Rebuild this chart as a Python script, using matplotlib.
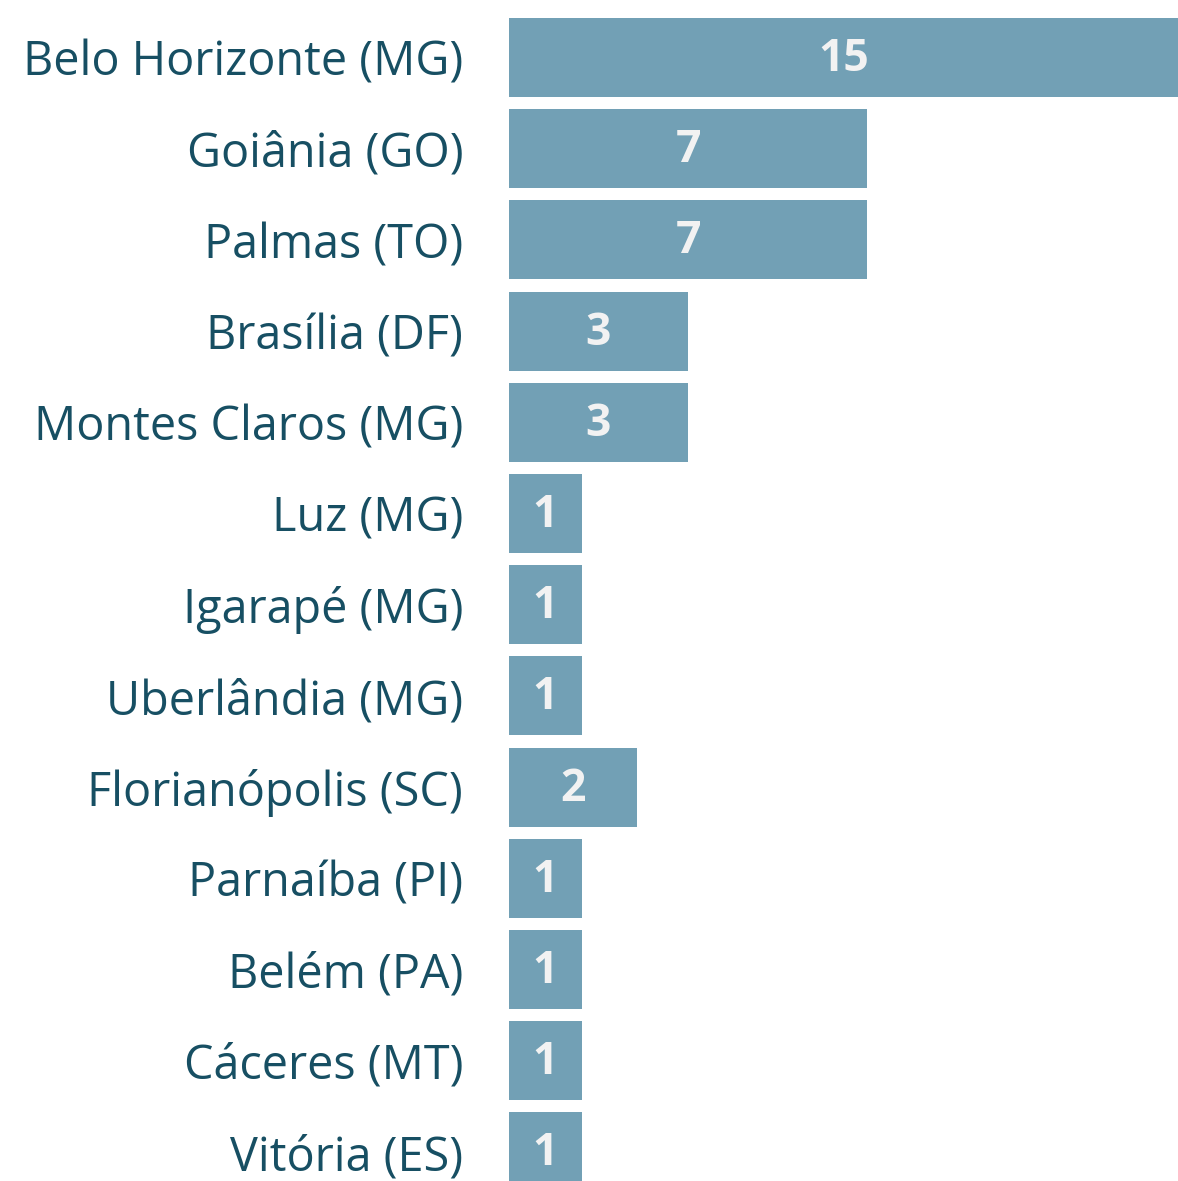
import numpy as np
import matplotlib
matplotlib.use("Agg")
import matplotlib.pyplot as plt
from matplotlib import transforms

# data
cities = ["Belo Horizonte (MG)", "Goiânia (GO)", "Palmas (TO)", "Brasília (DF)",
          "Montes Claros (MG)", "Luz (MG)", "Igarapé (MG)", "Uberlândia (MG)",
          "Florianópolis (SC)", "Parnaíba (PI)", "Belém (PA)", "Cáceres (MT)",
          "Vitória (ES)"]
counts = [15, 7, 7, 3, 3, 1, 1, 1, 2, 1, 1, 1, 1]

BAR = "#72a0b5"
LABEL = "#174f63"
VALUE = "#f2f2f2"
P = 0.82  # bars look power-scaled, not linear

plt.rcParams['font.family'] = ['Open Sans', 'DejaVu Sans']

W, H = 1178, 1181
fig = plt.figure(figsize=(W / 100, H / 100), dpi=100)
left = 509 / W
ax = fig.add_axes([left, 0, 1 - left, 1])

def fwd(x):
    x = np.asarray(x, dtype=float)
    return np.sign(x) * np.abs(x) ** P

def inv(x):
    x = np.asarray(x, dtype=float)
    return np.sign(x) * np.abs(x) ** (1 / P)

ax.set_xscale('function', functions=(fwd, inv))

y = np.arange(len(cities))
ax.barh(y, counts, height=0.866, color=BAR)

# nudge value labels a bit down, like the original
down = transforms.ScaledTranslation(0, -2 / 100, fig.dpi_scale_trans)
for yi, v in zip(y, counts):
    xc = inv(fwd(v) / 2)
    ax.text(xc, yi, str(v), ha='center', va='center', color=VALUE,
            fontsize=32, fontweight='bold', transform=ax.transData + down)

ax.set_xlim(0, 15)
pitch = 91.2
ax.set_ylim((H - 57.5) / pitch, -57.5 / pitch)
ax.set_yticks(y, cities)
ax.tick_params(axis='y', length=0, pad=33, labelsize=33.7, labelcolor=LABEL)
ax.set_xticks([])
for s in ax.spines.values():
    s.set_visible(False)

fig.savefig("out.png", dpi=100)
